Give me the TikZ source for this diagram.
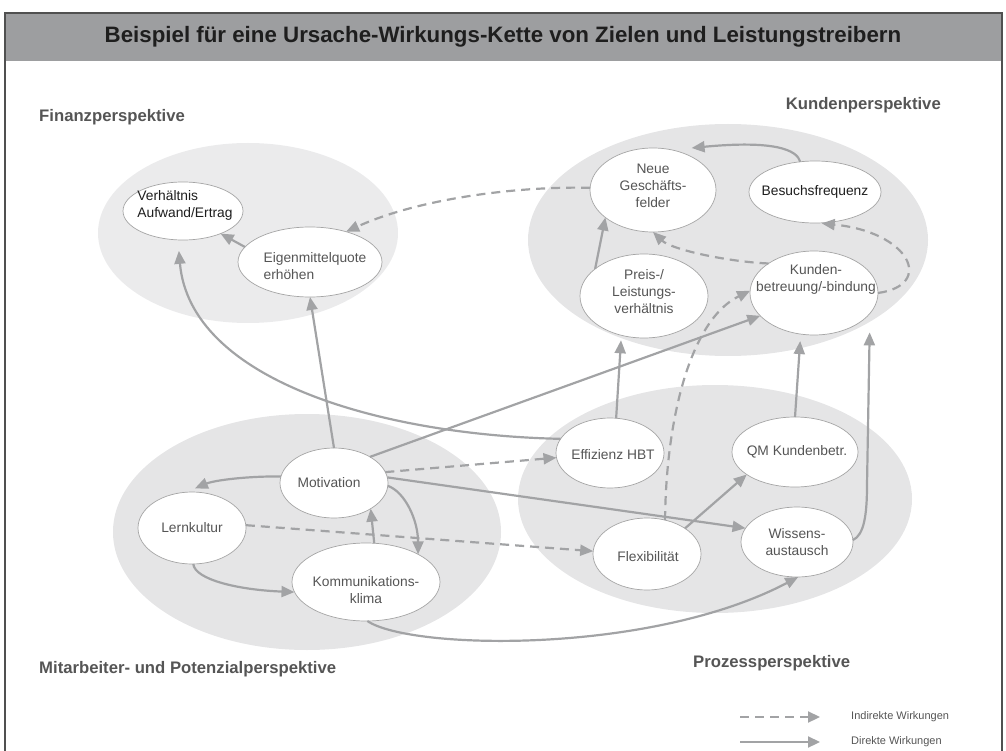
\documentclass[tikz,border=0pt]{standalone}
\usepackage{fontspec}
\setmainfont{Liberation Sans}
\usetikzlibrary{shapes.geometric,arrows.meta}
\definecolor{barfill}{HTML}{9D9EA0}
\definecolor{frameline}{HTML}{505050}
\definecolor{zonefill}{HTML}{E5E5E6}
\definecolor{zonelight}{HTML}{EBEBEC}
\definecolor{bubline}{HTML}{A5A5A5}
\definecolor{link}{HTML}{A2A3A5}
\definecolor{ink}{HTML}{555555}
\definecolor{darkink}{HTML}{1E1E1E}
\definecolor{headink}{HTML}{555555}

\begin{document}
\begin{tikzpicture}[x=1pt,y=-1pt,
  zone/.style={fill=zonefill, draw=none},
  bub/.style 2 args={ellipse, draw=bubline, line width=0.7pt, fill=white,
    minimum width=#1pt, minimum height=#2pt, inner sep=0pt, outer sep=0pt},
  txt/.style={font=\fontsize{13.8}{17}\selectfont, text=ink, align=center, inner sep=0pt},
  head/.style={font=\fontsize{16.7}{20}\selectfont\bfseries, text=headink, inner sep=0pt},
  arr/.style={draw=link, line width=2.2pt, -{Triangle[length=13pt,width=11pt]}},
  ind/.style={arr, dash pattern=on 9pt off 6pt},
  legtxt/.style={font=\fontsize{11}{13}\selectfont, text=ink, inner sep=0pt, anchor=west},
]
\useasboundingbox (0,0) rectangle (1006,751);
\clip (0,0) rectangle (1006,751);

% frame and title bar
\fill[barfill] (5,13) rectangle (1002,61);
\draw[frameline, line width=1.2pt] (5,770) -- (5,13) -- (1002,13) -- (1002,770);
\node[font=\fontsize{22.3}{26}\selectfont\bfseries, text=darkink, anchor=base, inner sep=0pt]
  (title) at (503,43) {Beispiel für eine Ursache-Wirkungs-Kette von Zielen und Leistungstreibern};

% perspective zones
\fill[zone, fill=zonelight] (248,233) ellipse [x radius=150pt, y radius=90pt];
\fill[zone] (728,240) ellipse [x radius=200pt, y radius=116pt];
\fill[zone] (307,532) ellipse [x radius=194pt, y radius=118pt];
\fill[zone] (715,499) ellipse [x radius=197pt, y radius=114pt];

% perspective headings
\node[head, anchor=base west] (hfin) at (39,122) {Finanzperspektive};
\node[head, anchor=base east] (hkun) at (941,110) {Kundenperspektive};
\node[head, anchor=base west] (hmit) at (39,673) {Mitarbeiter- und Potenzialperspektive};
\node[head, anchor=base west] (hpro) at (693,667) {Prozessperspektive};

% goals and drivers
\node[bub={120}{58}]  (ver) at (183,211) {};
\node[bub={144}{70}]  (eig) at (310,262) {};
\node[bub={126}{84}]  (neu) at (653,190) {};
\node[bub={132}{62}]  (bes) at (815,192) {};
\node[bub={128}{84}]  (pre) at (644,296) {};
\node[bub={128}{84}]  (kun) at (814,293) {};
\node[bub={108}{70}]  (mot) at (334,483) {};
\node[bub={108}{72}]  (ler) at (192,528) {};
\node[bub={148}{78}]  (kom) at (366,582) {};
\node[bub={108}{70}]  (eff) at (610,453) {};
\node[bub={126}{70}]  (qm)  at (795,452) {};
\node[bub={108}{72}]  (fle) at (647,554) {};
\node[bub={112}{70}]  (wis) at (797,542) {};

\node[txt, align=left, text=darkink] (ver-t) at ([xshift=2pt,yshift=6pt]ver.center) {Verhältnis\\Aufwand/Ertrag};
\node[txt, align=left] (eig-t) at ([xshift=5pt,yshift=-4pt]eig.center) {Eigenmittelquote\\erhöhen};
\node[txt] (neu-t) at ([yshift=4pt]neu.center) {Neue\\Geschäfts-\\felder};
\node[txt, text=darkink] (bes-t) at (bes.center) {Besuchsfrequenz};
\node[txt] (pre-t) at ([yshift=4pt]pre.center) {Preis-/\\Leistungs-\\verhältnis};
\node[txt] (kun-t) at ([xshift=2pt,yshift=14pt]kun.center) {Kunden-\\betreuung/-bindung};
\node[txt] (mot-t) at ([xshift=-5pt]mot.center) {Motivation};
\node[txt] (ler-t) at (ler.center) {Lernkultur};
\node[txt] (kom-t) at ([yshift=-8pt]kom.center) {Kommunikations-\\klima};
\node[txt] (eff-t) at ([xshift=3pt,yshift=-2pt]eff.center) {Effizienz HBT};
\node[txt] (qm-t)  at ([xshift=2pt]qm.center) {QM Kundenbetr.};
\node[txt] (fle-t) at ([xshift=1pt,yshift=-3pt]fle.center) {Flexibilität};
\node[txt] (wis-t) at (wis.center) {Wissens-\\austausch};

% direct and indirect effects
\draw[arr] (eig.167) -- (ver.-31);
\draw[ind] (neu.178) .. controls (520,186) and (420,198) .. (eig.40);
\draw[arr] (mot.north) -- (eig.south);
\draw[arr, shorten >=11pt] (eff.164) .. controls (380,435) and (190,380) .. (ver.-100);
\draw[arr, shorten >=5pt] (eff.80) -- (pre.-120);
\draw[arr] (pre.151) -- (neu.-150);
\draw[arr, shorten >=20pt] (bes.116) .. controls (797,150) and (775,140) .. (neu.65);
\draw[ind] (kun.147) .. controls (730,262) and (672,250) .. (neu.south);
\draw[ind, shorten >=4pt] (kun.east) .. controls (935,285) and (910,232) .. (bes.-85);
\draw[arr] (mot.36) -- (kun.-157);
\draw[ind] (fle.62) .. controls (666,420) and (690,320) .. (kun.178);
\draw[arr, shorten >=7pt] (qm.north) -- (kun.-108);
\draw[arr, shorten >=19pt] (wis.2) .. controls (864,535) and (867,515) .. (867,485) -- (kun.-20);
\draw[arr] (fle.34) -- (qm.-155);
\draw[arr] (mot.6) -- (wis.165);
\draw[ind] (mot.12) -- (eff.185);
\draw[arr, shorten >=10pt] (mot.173) .. controls (250,476) and (215,480) .. (ler.100);
\draw[arr] (kom.78) -- (mot.-35);
\draw[arr] (mot.-3) .. controls (405,492) and (418,520) .. (kom.28);
\draw[arr] (ler.-88) .. controls (195,580) and (240,590) .. (kom.188);
\draw[ind] (ler.3) -- (fle.177);
\draw[arr] (kom.-88) .. controls (410,650) and (650,655) .. (wis.-88);

% legend
\coordinate (lg1a) at (740,717);
\coordinate (lg1b) at (820,717);
\coordinate (lg2a) at (740,742);
\coordinate (lg2b) at (820,742);
\draw[ind, -{Triangle[length=12pt,width=11pt]}] (lg1a) -- (lg1b);
\draw[arr, -{Triangle[length=12pt,width=11pt]}] (lg2a) -- (lg2b);
\node[legtxt] (lgt1) at (851,717) {Indirekte Wirkungen};
\node[legtxt] (lgt2) at (851,742) {Direkte Wirkungen};
\end{tikzpicture}
\end{document}
